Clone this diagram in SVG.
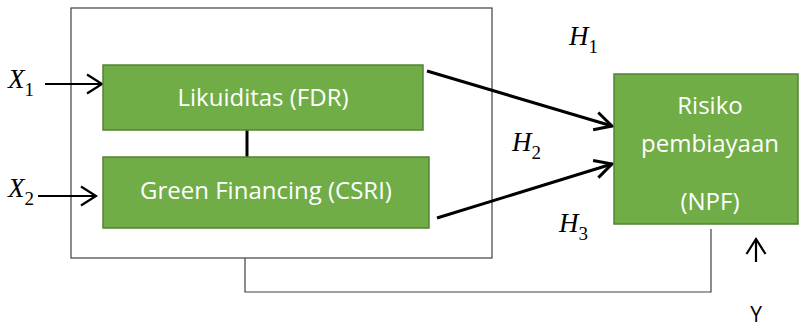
<svg xmlns="http://www.w3.org/2000/svg" width="801" height="327" viewBox="0 0 801 327">
<defs>
<style>
.node{fill:#70AD47;stroke:#548235;stroke-width:1.5}
.lbl{font-family:"Open Sans","Noto Sans",sans-serif;font-size:24px;fill:#fff;text-anchor:middle}
.math{font-family:"Liberation Serif",serif;font-style:italic;font-size:27px;fill:#000}
.sub{font-style:normal;font-size:19px}
.thick{stroke:#000;stroke-width:3;fill:none}
.thin{stroke:#404040;stroke-width:1.2;fill:none}
</style>
<marker id="open" markerWidth="20" markerHeight="22" refX="17" refY="11" orient="auto" markerUnits="userSpaceOnUse" viewBox="0 0 20 22">
<path d="M2,1.5 L17,11 L2,20.5" fill="none" stroke="#000" stroke-width="2.2"/>
</marker>
<marker id="open2" markerWidth="22" markerHeight="22" refX="19" refY="11" orient="auto" markerUnits="userSpaceOnUse" viewBox="0 0 22 22">
<path d="M2,2 L19,11 L2,20" fill="none" stroke="#000" stroke-width="3"/>
</marker>
</defs>
<rect x="71" y="8" width="421" height="250" fill="#fff" stroke="#404040" stroke-width="1.2" id="frame"/>
<g id="connectors">
<line x1="45" y1="84" x2="102" y2="84" stroke="#000" stroke-width="2.2" marker-end="url(#open)"/>
<line x1="38" y1="196" x2="96" y2="196" stroke="#000" stroke-width="2.2" marker-end="url(#open)"/>
<line x1="247" y1="130" x2="247" y2="157" class="thick"/>
<line x1="427" y1="71" x2="612" y2="126" class="thick" marker-end="url(#open2)"/>
<line x1="437" y1="218" x2="612" y2="164" class="thick" marker-end="url(#open2)"/>
<polyline points="711,229 711,292 245,292 245,258" class="thin"/>
<line x1="756" y1="262" x2="756" y2="239" stroke="#000" stroke-width="2.2" marker-end="url(#open)"/>
</g>
<g id="node-fdr">
<rect x="103" y="65" width="320" height="65" class="node"/>
<text x="263" y="106" class="lbl">Likuiditas (FDR)</text>
</g>
<g id="node-csri">
<rect x="103" y="157" width="326" height="71" class="node"/>
<text x="266" y="199" class="lbl">Green Financing (CSRI)</text>
</g>
<g id="node-npf">
<rect x="614" y="74" width="184" height="150" class="node"/>
<text x="710" y="114" class="lbl">Risiko</text>
<text x="710" y="152" class="lbl">pembiayaan</text>
<text x="710" y="210" class="lbl">(NPF)</text>
</g>
<g id="labels">
<text x="8" y="88" class="math">X<tspan class="sub" dy="8">1</tspan></text>
<text x="8" y="197" class="math">X<tspan class="sub" dy="8">2</tspan></text>
<text x="569" y="45" class="math">H<tspan class="sub" dy="8">1</tspan></text>
<text x="512" y="151" class="math">H<tspan class="sub" dy="8">2</tspan></text>
<text x="559" y="232" class="math">H<tspan class="sub" dy="8">3</tspan></text>
<text x="756" y="322" font-family="Open Sans, sans-serif" font-size="21" text-anchor="middle" fill="#000">Y</text>
</g>
</svg>
